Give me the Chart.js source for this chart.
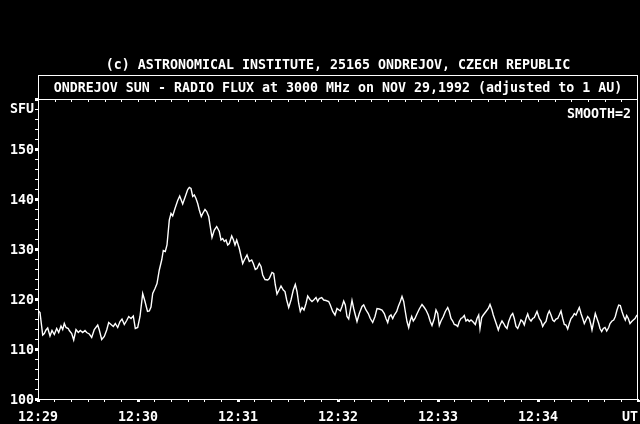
<!DOCTYPE html>
<html>
<head>
<meta charset="utf-8">
<script src="https://cdn.jsdelivr.net/npm/chart.js@4"></script>
<style>
  html, body { margin: 0; padding: 0; background: #000; }
  canvas { display: block; }
</style>
</head>
<body>
<canvas id="fluxChart" width="640" height="424"></canvas>
<script>
const topTitle = '(c) ASTRONOMICAL INSTITUTE, 25165 ONDREJOV, CZECH REPUBLIC';
const boxTitle = 'ONDREJOV SUN - RADIO FLUX at 3000 MHz on NOV 29,1992 (adjusted to 1 AU)';
const timeLabels = ['12:29', '12:30', '12:31', '12:32', '12:33', '12:34'];
const fluxLabels = [100, 110, 120, 130, 140, 150];
const smoothNote = 'SMOOTH=2';

// minutes after 12:29 UT
const minutes = [
  0.000, 0.020, 0.047, 0.063, 0.080, 0.097, 0.120, 0.140, 0.163, 0.187, 0.207, 0.230,
  0.247, 0.263, 0.280, 0.303, 0.313, 0.337, 0.357, 0.380, 0.403, 0.423, 0.447, 0.470,
  0.487, 0.513, 0.537, 0.563, 0.597, 0.613, 0.637, 0.663, 0.687, 0.707, 0.730, 0.753,
  0.773, 0.797, 0.820, 0.840, 0.863, 0.887, 0.907, 0.930, 0.953, 0.973, 0.997, 1.020,
  1.047, 1.070, 1.095, 1.113, 1.130, 1.147, 1.170, 1.190, 1.213, 1.237, 1.253, 1.273,
  1.290, 1.313, 1.330, 1.347, 1.370, 1.397, 1.417, 1.447, 1.473, 1.497, 1.513, 1.530,
  1.547, 1.563, 1.580, 1.597, 1.613, 1.633, 1.647, 1.670, 1.687, 1.707, 1.720, 1.740,
  1.763, 1.787, 1.813, 1.830, 1.847, 1.863, 1.880, 1.897, 1.913, 1.937, 1.953, 1.970,
  1.987, 2.013,
  2.047, 2.063, 2.090, 2.113, 2.137, 2.153, 2.173, 2.190, 2.213, 2.230, 2.247, 2.270,
  2.297, 2.313, 2.340, 2.357, 2.373, 2.390, 2.413, 2.430, 2.453, 2.470, 2.487, 2.507,
  2.530, 2.553, 2.573, 2.590, 2.607, 2.623, 2.640, 2.660, 2.680, 2.697, 2.720, 2.740,
  2.757, 2.780, 2.797, 2.813, 2.837, 2.857, 2.880, 2.907, 2.923, 2.947, 2.970, 2.990,
  3.023, 3.040, 3.057, 3.073, 3.090, 3.107, 3.123, 3.140, 3.157, 3.173, 3.190, 3.213,
  3.240, 3.257, 3.280, 3.303, 3.323, 3.347, 3.370, 3.390, 3.413, 3.440, 3.463, 3.480,
  3.497, 3.513, 3.530, 3.547, 3.563, 3.587, 3.603, 3.623, 3.640, 3.657, 3.673, 3.690,
  3.707, 3.720, 3.737, 3.753, 3.770, 3.787, 3.813, 3.840, 3.863, 3.880, 3.903, 3.923,
  3.940, 3.963, 3.980, 3.997, 4.013,
  4.030, 4.053, 4.073, 4.097, 4.113, 4.130, 4.147, 4.163, 4.180, 4.197, 4.213, 4.230,
  4.247, 4.263, 4.280, 4.297, 4.313, 4.330, 4.347, 4.373, 4.390, 4.407, 4.420, 4.437,
  4.453, 4.480, 4.503, 4.520, 4.540, 4.553, 4.570, 4.587, 4.603, 4.620, 4.640, 4.657,
  4.673, 4.690, 4.707, 4.730, 4.747, 4.763, 4.780, 4.797, 4.813, 4.830, 4.847, 4.863,
  4.880, 4.897, 4.913, 4.930, 4.947, 4.963, 4.990,
  5.013, 5.030, 5.047, 5.063, 5.080, 5.097, 5.113, 5.130, 5.147, 5.163, 5.180, 5.197,
  5.213, 5.230, 5.247, 5.263, 5.280, 5.297, 5.313, 5.330, 5.347, 5.363, 5.380, 5.397,
  5.413, 5.430, 5.447, 5.463, 5.480, 5.497, 5.513, 5.530, 5.540, 5.557, 5.573, 5.590,
  5.607, 5.620, 5.637, 5.653, 5.670, 5.687, 5.707, 5.720, 5.740, 5.757, 5.773, 5.790,
  5.807, 5.823, 5.840, 5.857, 5.873, 5.887, 5.903, 5.920, 5.937, 5.953, 5.970, 5.987,
  5.997
];

// radio flux, SFU
const flux = [
  117.7, 117.3, 112.8, 113.1, 113.8, 114.2, 112.6, 113.7, 112.9, 114.1, 113.3, 114.6,
  113.9, 115.1, 114.3, 114.1, 113.7, 113.1, 111.8, 113.9, 113.3, 113.7, 113.3, 113.7,
  113.3, 113.0, 112.3, 113.9, 114.8, 113.8, 111.9, 112.5, 113.8, 115.3, 114.9, 114.5,
  115.1, 114.3, 115.5, 116.0, 114.9, 115.7, 116.5, 116.1, 116.6, 114.1, 114.3, 116.5,
  121.1, 119.5, 117.5, 117.6, 118.4, 121.1, 122.1, 123.1, 125.8, 127.8, 129.7, 129.5,
  130.8, 135.8, 137.1, 136.6, 138.1, 139.7, 140.6, 139.0, 140.5, 141.9, 142.3, 142.1,
  140.5, 140.8, 140.1, 139.1, 137.8, 136.5, 137.1, 137.9, 137.5, 136.5, 134.8, 132.3,
  133.8, 134.5, 133.5, 131.8, 132.1, 131.5, 131.8, 130.8, 131.1, 132.6, 131.9, 130.8,
  131.8, 130.1,
  127.1, 127.8, 128.8, 127.5, 127.8, 127.1, 125.9, 126.1, 127.1, 126.5, 124.8, 123.9,
  123.8, 124.1, 125.3, 125.1, 122.8, 121.0, 121.9, 122.6, 121.8, 121.5, 119.8, 118.3,
  119.8, 121.8, 122.9, 121.5, 119.1, 117.5, 118.3, 117.8, 119.1, 120.6, 119.9, 119.5,
  119.8, 120.3, 119.5, 120.1, 120.3, 119.8, 119.7, 119.5, 118.8, 117.5, 116.8, 118.1,
  117.6, 118.5, 119.6, 118.8, 116.5, 116.0, 117.8, 119.7, 118.1, 116.8, 115.5, 117.1,
  118.5, 118.8, 117.8, 117.1, 116.1, 115.3, 116.5, 118.1, 118.0, 117.8, 117.1, 116.1,
  115.3, 116.5, 116.8, 116.1, 116.8, 117.5, 118.5, 119.5, 120.5, 119.5, 117.5, 115.5,
  114.3, 115.5, 116.5, 115.6, 116.1, 116.9, 118.0, 118.9, 118.3, 117.8, 116.8, 115.5,
  114.7, 116.1, 117.8, 117.1, 114.7,
  115.6, 116.5, 117.5, 118.3, 117.5, 116.1, 115.6, 114.9, 114.8, 114.5, 115.5, 116.1,
  116.3, 116.7, 115.6, 115.9, 115.5, 115.8, 115.5, 114.9, 116.1, 116.8, 114.1, 116.3,
  116.8, 117.5, 118.1, 118.9, 117.8, 116.8, 115.8, 114.8, 113.8, 114.8, 115.6, 115.1,
  114.5, 114.1, 115.5, 116.7, 117.1, 116.1, 114.5, 114.1, 114.9, 115.8, 115.5, 114.8,
  116.1, 117.0, 116.0, 115.6, 116.1, 116.3, 117.5,
  116.1, 115.6, 114.5, 115.1, 115.5, 116.9, 117.6, 116.8, 115.8, 115.5, 116.0, 116.1,
  116.8, 117.6, 116.1, 114.9, 114.8, 114.0, 115.1, 116.1, 116.5, 117.1, 116.8, 117.6,
  118.3, 117.1, 116.1, 115.1, 115.8, 116.5, 116.1, 114.8, 113.8, 115.5, 117.1, 116.1,
  115.1, 114.1, 113.5, 114.1, 114.3, 113.6, 114.3, 115.1, 115.6, 115.8, 116.5, 117.8,
  118.8, 118.7, 117.5, 116.5, 115.8, 116.7, 116.1, 115.1, 115.5, 115.8, 116.1, 116.7,
  116.8
];

const FONT = "'DejaVu Sans Mono', 'Liberation Mono', monospace";
Chart.defaults.font.family = FONT;
Chart.defaults.font.size = 13.3;
Chart.defaults.font.weight = 'bold';
Chart.defaults.color = '#fff';

// frame, titles and the small labels the old plot puts around its axes
const framePlugin = {
  id: 'framePlugin',
  afterDraw(chart) {
    const c = chart.ctx;
    const area = chart.chartArea;
    const xs = chart.scales.x;
    const cx = (area.left + area.right) / 2;
    c.save();
    c.strokeStyle = '#fff';
    c.fillStyle = '#fff';
    c.lineWidth = 1;

    c.beginPath();
    c.moveTo(area.left, Math.round(area.top) + 0.5);
    c.lineTo(Math.round(area.right) - 0.5, Math.round(area.top) + 0.5);
    c.lineTo(Math.round(area.right) - 0.5, Math.round(area.bottom));
    c.stroke();

    // box around the second title line
    c.strokeRect(Math.round(area.left) + 0.5, 75.5, Math.round(area.right - area.left) - 1, Math.round(area.top) - 75);

    // small inward ticks along the top edge, every 10 s
    c.beginPath();
    for (let i = 1; i < 36; i++) {
      const px = Math.round(xs.getPixelForValue(i / 6)) + 0.5;
      c.moveTo(px, area.top);
      c.lineTo(px, area.top + 3);
    }
    c.stroke();

    c.font = 'bold 13.3px ' + FONT;
    c.textBaseline = 'middle';
    c.textAlign = 'center';
    c.fillText(topTitle, cx, 66);
    c.fillText(boxTitle, cx, 89);
    c.textAlign = 'right';
    c.fillText('SFU', 34, 110);
    c.fillText(smoothNote, 631, 115);
    c.fillText('UT', 638, 418);
    c.restore();
  }
};

const ctx = document.getElementById('fluxChart').getContext('2d');
const chart = new Chart(ctx, {
  type: 'line',
  data: {
    datasets: [{
      label: 'Radio flux 3000 MHz',
      data: minutes.map((m, i) => ({ x: m, y: flux[i] })),
      borderColor: '#fff',
      borderWidth: 1.4,
      pointRadius: 0,
      tension: 0,
      fill: false
    }]
  },
  options: {
    responsive: false,
    devicePixelRatio: 1,
    animation: false,
    layout: { padding: { top: 99, right: 2, left: 0, bottom: 0 } },
    plugins: {
      legend: { display: false },
      title: { display: false },
      tooltip: { enabled: false }
    },
    scales: {
      x: {
        type: 'linear',
        min: 0,
        max: 6,
        afterBuildTicks: scale => {
          const t = [];
          for (let i = 0; i <= 36; i++) t.push({ value: i / 6 });
          scale.ticks = t;
        },
        afterFit: scale => {
          scale.height = 25;
          scale.paddingLeft = 0;
          scale.paddingRight = 0;
        },
        ticks: {
          autoSkip: false,
          maxRotation: 0,
          padding: 8,
          callback: (value, index) => (index % 6 === 0 && index < 36) ? timeLabels[index / 6] : ''
        },
        grid: {
          drawOnChartArea: false,
          color: '#fff',
          tickColor: '#fff',
          tickLength: 3,
          tickWidth: c => (c.index % 6 === 0 ? 3 : 1)
        },
        border: { color: '#fff', width: 1 }
      },
      y: {
        min: 100,
        max: 160,
        afterBuildTicks: scale => {
          const t = [];
          for (let v = 100; v <= 160; v += 2) t.push({ value: v });
          scale.ticks = t;
        },
        afterFit: scale => { scale.width = 38; },
        ticks: {
          autoSkip: false,
          padding: 1,
          labelOffset: 2,
          callback: value => fluxLabels.includes(value) ? String(value) : ''
        },
        grid: {
          drawOnChartArea: false,
          color: '#fff',
          tickColor: '#fff',
          tickLength: 3,
          tickWidth: c => (c.tick && c.tick.value % 10 === 0 ? 3 : 1)
        },
        border: { color: '#fff', width: 1 }
      }
    }
  },
  plugins: [framePlugin]
});
</script>
</body>
</html>
